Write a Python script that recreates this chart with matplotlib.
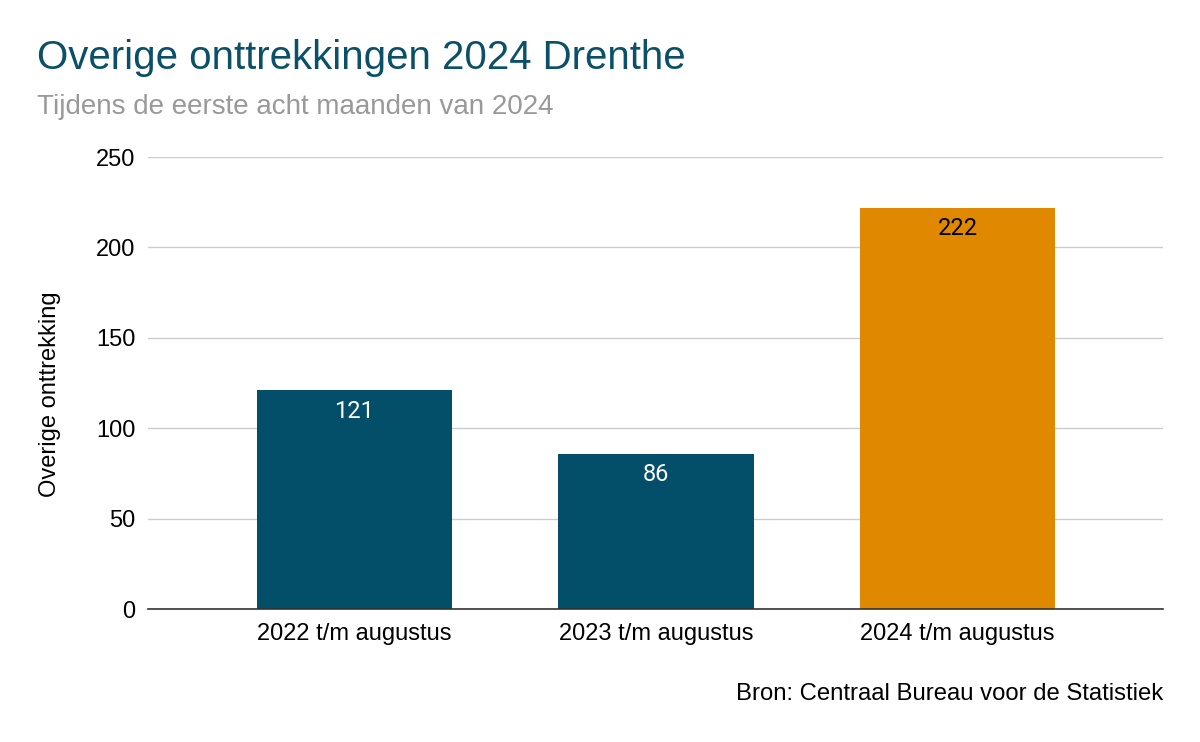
import matplotlib.pyplot as plt

plt.rcParams['font.family'] = ['Liberation Sans', 'DejaVu Sans']

# data
categorieen = ['2022 t/m augustus', '2023 t/m augustus', '2024 t/m augustus']
waarden = [121, 86, 222]
kleuren = ['#034f6a', '#034f6a', '#e08800']
y_ticks = [0, 50, 100, 150, 200, 250]

fig = plt.figure(figsize=(12, 7.42), dpi=100)
ax = fig.add_axes([0.1233, 0.1792, 0.846, 0.6092])

x = list(range(len(categorieen)))
bars = ax.bar(x, waarden, width=0.647, color=kleuren, zorder=3)

# waarden in de balken
for b, v in zip(bars, waarden):
    kleur = 'white' if v < 200 else 'black'
    ax.annotate(str(v), (b.get_x() + b.get_width() / 2, v), xytext=(0, -7),
                textcoords='offset points', ha='center', va='top',
                fontsize=17, color=kleur, family=['Roboto', 'DejaVu Sans'])

ax.set_xlim(-0.685, 2.682)
ax.set_ylim(0, 250)
ax.set_yticks(y_ticks)
ax.set_xticks(x)
ax.set_xticklabels(categorieen, fontsize=17)
ax.tick_params(axis='y', labelsize=17, length=0, pad=9)
ax.tick_params(axis='x', length=0, pad=10)
ax.grid(axis='y', color='#cccccc', linewidth=1, zorder=0)
for s in ['top', 'right', 'left']:
    ax.spines[s].set_visible(False)
ax.spines['bottom'].set_color('#333333')
ax.spines['bottom'].set_linewidth(1.2)
ax.spines['bottom'].set_zorder(4)

ax.set_ylabel('Overige onttrekking', fontsize=17)
ax.yaxis.set_label_coords(-0.0857, 0.476)

fig.text(0.031, 0.907, 'Overige onttrekkingen 2024 Drenthe', fontsize=29,
         color='#0b5069', ha='left', va='baseline')
fig.text(0.031, 0.847, 'Tijdens de eerste acht maanden van 2024', fontsize=20,
         color='#999999', ha='left', va='baseline')
fig.text(0.969, 0.0566, 'Bron: Centraal Bureau voor de Statistiek', fontsize=17.2,
         color='black', ha='right', va='baseline')

plt.savefig('out.png', dpi=100)
